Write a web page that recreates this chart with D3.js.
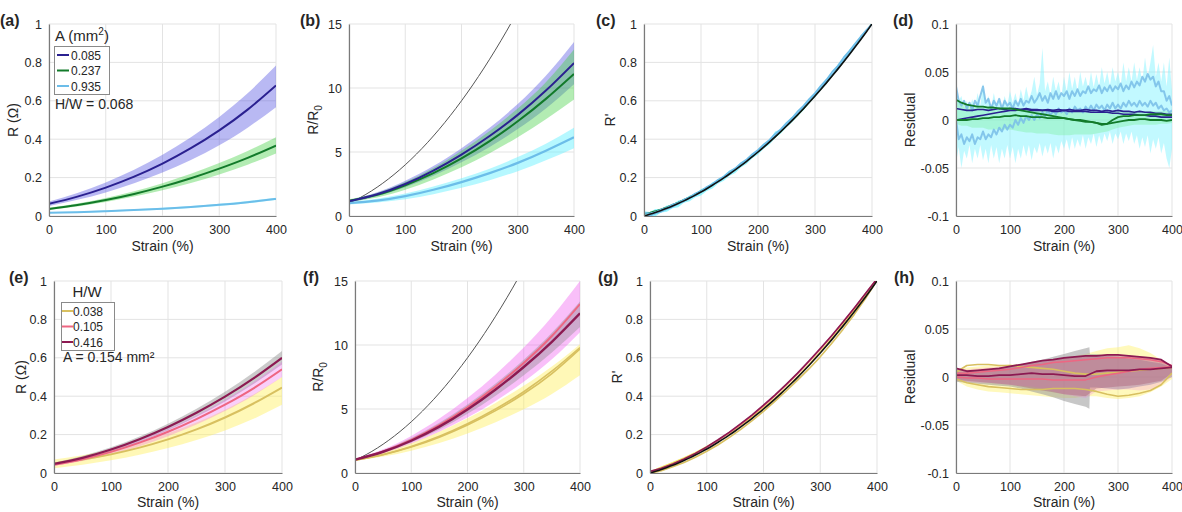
<!DOCTYPE html>
<html><head><meta charset="utf-8">
<script src="https://cdn.jsdelivr.net/npm/d3@7"></script>
<style>body{margin:0;background:#fff} text{font-family:"Liberation Sans",Arial,sans-serif;fill:#262626}</style>
</head><body><svg id="c" width="1182" height="512"></svg>
<script>
// ---------- data ----------
const strain9 = [0,50,100,150,200,250,300,350,400];
const strain41 = d3.range(0,401,10);
const strain81 = d3.range(0,401,5);
const strain21 = d3.range(0,401,20);
const strainGray = [0,20,40,60,80,100,120,140,160,180,200,220,240,247,248,260,280,300,320,340,360,380,400];
const strainSq = [0,20,40,60,80,100,120,140,160,180,200,220,240,260,280,300];
const xTicks = [0,100,200,300,400];
const yTicksR = [0,0.2,0.4,0.6,0.8,1];
const yTicksRatio = [0,5,10,15];
const yTicksRes = [-0.1,-0.05,0,0.05,0.1];
const legendA = ["0.085","0.237","0.935"];
const legendHW = ["0.038","0.105","0.416"];

// (a) R vs strain, by cross-section A
const a085 = [0.063,0.101,0.148,0.205,0.273,0.353,0.446,0.554,0.68];
const a085Up = [0.075,0.12,0.175,0.241,0.319,0.41,0.516,0.639,0.784];
const a085Lo = [0.052,0.084,0.123,0.17,0.226,0.292,0.369,0.46,0.567];
const a237 = [0.037,0.057,0.083,0.115,0.153,0.197,0.247,0.303,0.367];
const a237Up = [0.043,0.065,0.094,0.129,0.171,0.22,0.276,0.339,0.41];
const a237Lo = [0.032,0.05,0.073,0.101,0.134,0.172,0.216,0.267,0.325];
const a935 = [0.017,0.02,0.025,0.031,0.038,0.047,0.058,0.072,0.089];
const a935Up = [0.02,0.023,0.029,0.035,0.043,0.052,0.064,0.078,0.095];
const a935Lo = [0.014,0.017,0.021,0.027,0.033,0.042,0.052,0.066,0.083];

// (b) R/R0
const bSquare = [1,1.44,1.96,2.56,3.24,4,4.84,5.76,6.76,7.84,9,10.24,11.56,12.96,14.44,16];
const b085 = [1.15,1.7,2.5,3.55,4.8,6.25,7.9,9.8,11.95];
const b085Up = [1.25,1.85,2.75,3.9,5.3,6.9,8.75,10.95,13.6];
const b085Lo = [1.05,1.55,2.25,3.15,4.2,5.4,6.8,8.4,10.3];
const b237 = [1.2,1.65,2.4,3.35,4.5,5.85,7.4,9.15,11.1];
const b237Up = [1.3,1.8,2.65,3.75,5.1,6.65,8.4,10.45,13.0];
const b237Lo = [1.1,1.45,2.05,2.85,3.8,4.9,6.15,7.55,9.1];
const b935 = [1.0,1.2,1.55,2.05,2.65,3.35,4.15,5.1,6.15];
const b935Up = [1.1,1.35,1.75,2.3,2.95,3.7,4.6,5.65,6.9];
const b935Lo = [0.9,1.05,1.3,1.7,2.2,2.8,3.5,4.35,5.3];

// (c)/(g) normalised fit R'
const fitR = [0,0.00875,0.01833,0.02875,0.04,0.05208,0.065,0.07875,0.09333,0.10875,0.125,
  0.14208,0.16,0.17875,0.19833,0.21875,0.24,0.26208,0.285,0.30875,0.33333,
  0.35875,0.385,0.41208,0.44,0.46875,0.49833,0.52875,0.56,0.59208,0.625,
  0.65875,0.69333,0.72875,0.765,0.80208,0.84,0.87875,0.91833,0.95875,1];
const cCyanDevUp = [0.025,0.012,0.018,0.008,0.015,0.006,0.016,0.007,0.014,0.006,0.015,
  0.008,0.016,0.007,0.013,0.02,0.009,0.016,0.008,0.014,0.01,
  0.018,0.009,0.028,0.01,0.016,0.02,0.01,0.018,0.012,0.02,
  0.012,0.02,0.013,0.024,0.015,0.025,0.014,0.02,0.01,0.0];
const cCyanDevLo = [-0.01,-0.016,-0.02,-0.01,-0.018,-0.012,-0.02,-0.01,-0.016,-0.011,-0.018,
  -0.012,-0.017,-0.01,-0.015,-0.009,-0.016,-0.01,-0.014,-0.008,-0.013,
  -0.008,-0.012,-0.007,-0.01,-0.006,-0.009,-0.006,-0.009,-0.005,-0.008,
  -0.005,-0.007,-0.004,-0.006,-0.004,-0.006,-0.004,-0.005,-0.003,0.0];
const cLbDevA = [0.015,0.005,0.002,0.006,0.003,0.008,0.004,0.007,0.005,0.009,0.006,
  0.009,0.007,0.011,0.008,0.012,0.009,0.013,0.01,0.014,0.011,
  0.015,0.012,0.016,0.013,0.017,0.014,0.018,0.015,0.019,0.016,
  0.02,0.017,0.022,0.018,0.023,0.02,0.019,0.016,0.01,0.0];
const cLbDevB = [0.0,-0.008,-0.006,-0.007,-0.004,-0.005,-0.002,-0.003,0.0,-0.002,0.001,
  0.0,0.002,0.001,0.003,0.002,0.004,0.003,0.005,0.004,0.006,
  0.005,0.007,0.006,0.008,0.007,0.008,0.007,0.009,0.008,0.009,
  0.008,0.01,0.009,0.011,0.01,0.01,0.008,0.006,0.004,0.0];

// (d) residuals, A series
const dCyanUp = [0.035,0.02,0.025,0.012,0.02,0.01,0.022,0.012,0.028,0.015,0.038,0.018,0.025,0.012,0.028,0.015,0.022,0.012,0.025,0.016,
  0.03,0.018,0.028,0.016,0.032,0.02,0.035,0.022,0.03,0.045,0.026,0.038,0.075,0.03,0.04,0.026,0.045,0.03,0.04,0.025,
  0.045,0.03,0.05,0.032,0.045,0.03,0.05,0.035,0.045,0.032,0.05,0.034,0.048,0.035,0.055,0.038,0.05,0.036,0.055,0.04,
  0.05,0.036,0.06,0.04,0.055,0.04,0.06,0.042,0.055,0.04,0.065,0.044,0.06,0.078,0.045,0.06,0.04,0.06,0.035,0.065,0.03];
const dCyanLo = [-0.045,-0.028,-0.05,-0.032,-0.04,-0.026,-0.045,-0.03,-0.04,-0.026,-0.042,-0.03,-0.045,-0.026,-0.04,-0.028,-0.045,-0.03,-0.04,-0.026,
  -0.04,-0.028,-0.045,-0.03,-0.04,-0.026,-0.038,-0.026,-0.042,-0.028,-0.035,-0.024,-0.038,-0.026,-0.035,-0.024,-0.04,-0.026,-0.035,-0.022,
  -0.03,-0.02,-0.032,-0.018,-0.03,-0.02,-0.028,-0.016,-0.03,-0.018,-0.025,-0.014,-0.028,-0.016,-0.025,-0.014,-0.022,-0.012,-0.025,-0.014,
  -0.02,-0.012,-0.025,-0.014,-0.022,-0.012,-0.025,-0.016,-0.03,-0.018,-0.028,-0.016,-0.035,-0.02,-0.03,-0.018,-0.035,-0.024,-0.04,-0.05,-0.03];
const dLbA = [0.035,0.02,0.015,0.02,0.012,0.018,0.01,0.02,0.015,0.025,0.035,0.018,0.022,0.012,0.02,0.015,0.022,0.012,0.02,0.015,
  0.018,0.012,0.02,0.015,0.022,0.015,0.02,0.018,0.025,0.018,0.022,0.028,0.02,0.025,0.018,0.028,0.022,0.03,0.022,0.028,
  0.025,0.03,0.022,0.03,0.025,0.032,0.025,0.03,0.028,0.035,0.028,0.032,0.03,0.036,0.028,0.034,0.03,0.036,0.03,0.035,
  0.032,0.038,0.03,0.036,0.032,0.04,0.034,0.04,0.036,0.045,0.04,0.048,0.042,0.045,0.035,0.04,0.03,0.03,0.02,0.025,0.015];
const dLbB = [0.0,-0.02,-0.015,-0.025,-0.018,-0.022,-0.015,-0.025,-0.018,-0.02,-0.012,-0.02,-0.015,-0.018,-0.01,-0.015,-0.008,-0.012,-0.005,-0.01,
  -0.005,-0.008,0.0,-0.005,0.002,-0.003,0.004,0.0,0.005,0.0,0.006,0.002,0.008,0.004,0.01,0.005,0.01,0.006,0.012,0.008,
  0.01,0.006,0.012,0.008,0.014,0.01,0.012,0.008,0.014,0.01,0.015,0.01,0.016,0.012,0.015,0.01,0.016,0.012,0.018,0.012,
  0.016,0.012,0.018,0.014,0.02,0.015,0.018,0.014,0.02,0.015,0.018,0.014,0.02,0.015,0.018,0.012,0.015,0.01,0.012,0.008,0.01];
const dGreenUp = [0.02,0.016,0.016,0.014,0.014,0.014,0.013,0.013,0.013,0.013,0.012,0.012,0.012,0.012,0.011,0.011,0.011,0.01,0.01,0.01,0.009,
  0.009,0.009,0.009,0.009,0.009,0.008,0.008,0.008,0.008,0.009,0.009,0.009,0.009,0.009,0.009,0.009,0.009,0.009,0.009,0.009];
const dGreenLo = [-0.004,-0.006,-0.006,-0.008,-0.008,-0.008,-0.01,-0.01,-0.01,-0.01,-0.01,-0.011,-0.012,-0.013,-0.013,-0.014,-0.014,-0.014,-0.015,-0.016,-0.016,
  -0.016,-0.015,-0.015,-0.015,-0.015,-0.014,-0.013,-0.012,-0.01,-0.008,-0.007,-0.006,-0.005,-0.005,-0.005,-0.005,-0.005,-0.004,-0.004,-0.003];
const dNavyA = [0.012,0.011,0.01,0.01,0.011,0.011,0.01,0.011,0.012,0.011,0.012,0.012,0.011,0.012,0.011,0.011,0.01,0.011,0.01,0.011,0.01,
  0.011,0.01,0.01,0.011,0.01,0.01,0.009,0.01,0.009,0.01,0.009,0.009,0.008,0.009,0.008,0.008,0.007,0.007,0.006,0.006];
const dNavyB = [0.0,0.001,0.002,0.003,0.004,0.005,0.006,0.007,0.008,0.009,0.01,0.01,0.011,0.011,0.01,0.01,0.01,0.01,0.009,0.009,0.01,
  0.009,0.009,0.009,0.009,0.008,0.008,0.008,0.008,0.007,0.007,0.006,0.006,0.006,0.005,0.005,0.004,0.004,0.003,0.003,0.003];
const dGreenA = [0.021,0.018,0.016,0.015,0.014,0.014,0.013,0.013,0.012,0.012,0.012,0.011,0.01,0.009,0.008,0.007,0.006,0.005,0.004,0.003,0.002,
  0.001,0.0,-0.001,-0.002,-0.002,-0.003,-0.005,-0.004,0.0,0.003,0.004,0.004,0.005,0.005,0.005,0.006,0.006,0.006,0.005,0.005];
const dGreenB = [0.0,0.0,0.0,0.001,0.001,0.002,0.002,0.003,0.003,0.004,0.004,0.005,0.004,0.004,0.003,0.003,0.003,0.002,0.002,0.002,0.002,
  0.001,0.0,0.0,-0.001,-0.002,-0.003,-0.004,-0.004,-0.003,-0.002,-0.001,0.0,0.0,0.001,0.001,0.0,0.0,0.0,-0.001,0.0];

// (e) R vs strain, by H/W
const e038 = [0.05,0.07,0.097,0.132,0.175,0.227,0.289,0.362,0.445];
const e038Up = [0.07,0.092,0.122,0.16,0.207,0.263,0.329,0.409,0.5];
const e038Lo = [0.025,0.043,0.066,0.095,0.13,0.172,0.222,0.282,0.355];
const e105 = [0.043,0.072,0.11,0.158,0.215,0.281,0.356,0.441,0.54];
const e105Up = [0.05,0.081,0.121,0.171,0.231,0.301,0.382,0.474,0.58];
const e105Lo = [0.036,0.062,0.096,0.139,0.191,0.252,0.323,0.404,0.5];
const e416 = [0.047,0.079,0.122,0.176,0.24,0.314,0.398,0.493,0.6];
const e416Up = [0.055,0.089,0.134,0.19,0.257,0.335,0.423,0.523,0.636];
const e416Lo = [0.04,0.07,0.111,0.162,0.223,0.293,0.373,0.463,0.565];

// (f) R/R0 by H/W
const f038A = [1.0,1.45,2.07,2.87,3.85,5.0,6.35,7.95,9.8];
const f038B = [1.0,1.43,2.03,2.8,3.75,4.87,6.19,7.77,9.7];
const f038Up = [1.05,1.6,2.32,3.22,4.27,5.47,6.82,8.32,10.06];
const f038Lo = [0.95,1.28,1.74,2.34,3.08,3.96,4.98,6.18,7.64];
const f105 = [1.04,1.69,2.59,3.74,5.14,6.76,8.6,10.7,13.2];
const f105Up = [1.1,1.85,2.9,4.25,5.85,7.7,9.8,12.2,15.0];
const f105Lo = [0.98,1.53,2.28,3.23,4.33,5.63,7.13,8.88,11.0];
const f416 = [1.04,1.66,2.52,3.62,4.96,6.52,8.28,10.25,12.48];
const f416Up = [1.08,1.78,2.73,3.93,5.35,6.99,8.85,10.95,13.4];
const f416Lo = [1.0,1.58,2.38,3.4,4.62,6.04,7.64,9.42,11.4];

// (h) residuals, H/W series
const hGrayUp = [0.005,0.006,0.007,0.008,0.01,0.011,0.013,0.016,0.018,0.021,0.024,0.027,0.03,0.031,0.024,0.024,0.022,0.021,0.019,0.018,0.016,0.014,0.01];
const hGrayLo = [-0.005,-0.006,-0.007,-0.008,-0.009,-0.01,-0.012,-0.015,-0.018,-0.021,-0.025,-0.028,-0.031,-0.033,-0.011,-0.011,-0.012,-0.013,-0.012,-0.01,-0.008,-0.005,0.0];
const hYellowUp = [0.006,0.01,0.011,0.012,0.012,0.013,0.013,0.014,0.015,0.017,0.02,0.022,0.024,0.027,0.03,0.031,0.033,0.03,0.025,0.018,0.01];
const hYellowLo = [-0.004,-0.01,-0.013,-0.015,-0.016,-0.017,-0.018,-0.019,-0.02,-0.021,-0.022,-0.022,-0.02,-0.02,-0.022,-0.023,-0.022,-0.02,-0.016,-0.01,-0.002];
const hPinkUp = [0.008,0.008,0.009,0.01,0.011,0.012,0.013,0.014,0.016,0.018,0.02,0.021,0.022,0.023,0.023,0.023,0.022,0.021,0.02,0.018,0.012];
const hPinkLo = [-0.004,-0.005,-0.006,-0.006,-0.007,-0.008,-0.009,-0.01,-0.012,-0.015,-0.018,-0.02,-0.022,-0.015,-0.014,-0.013,-0.013,-0.014,-0.013,-0.008,0.0];
const hMaroonA = [0.009,0.006,0.007,0.008,0.009,0.011,0.013,0.015,0.017,0.018,0.02,0.021,0.022,0.022,0.023,0.023,0.022,0.021,0.02,0.018,0.011];
const hMaroonB = [0.002,0.002,0.001,0.001,0.002,0.002,0.003,0.004,0.003,0.003,0.002,0.001,0.001,0.006,0.007,0.007,0.007,0.008,0.008,0.009,0.01];
const hMaroonFillLo = [-0.003,-0.004,-0.005,-0.006,-0.007,-0.008,-0.01,-0.012,-0.014,-0.016,-0.018,-0.019,-0.02,-0.012,-0.011,-0.01,-0.009,-0.008,-0.006,-0.004,0.004];
const hPinkA = [0.004,0.004,0.005,0.006,0.007,0.008,0.01,0.012,0.013,0.015,0.016,0.017,0.018,0.019,0.02,0.02,0.02,0.019,0.018,0.016,0.012];
const hPinkB = [0.0,-0.001,-0.001,-0.002,-0.002,-0.002,-0.002,-0.002,-0.002,-0.003,-0.003,-0.003,-0.003,0.0,0.002,0.004,0.006,0.008,0.009,0.01,0.011];
const hYellowA = [0.005,0.012,0.013,0.013,0.012,0.012,0.011,0.01,0.009,0.008,0.006,0.004,0.003,0.003,0.004,0.005,0.006,0.007,0.008,0.009,0.01];
const hYellowB = [-0.002,-0.006,-0.008,-0.01,-0.011,-0.012,-0.013,-0.013,-0.013,-0.012,-0.012,-0.012,-0.013,-0.015,-0.018,-0.02,-0.019,-0.017,-0.014,-0.008,0.004];

// ---------- colours ----------
const C = {
  navy:"#2a2090", navyBand:"#5050e0", green:"#127a2a", greenBand:"#40d040",
  lb:"#6cbde9", cyanBand:"#6ef2ff", yellow:"#d8c060", yellowBand:"#fff060",
  pink:"#ee6682", pinkBand:"#f060f0", maroon:"#8c1a52", grayBand:"#8c8c8c"
};

// ---------- drawing helpers ----------
const svg = d3.select("#c");
const defs = svg.append("defs");
let clipN = 0;

function panel(p){
  const x = d3.scaleLinear().domain([0,400]).range([p.l,p.r]);
  const y = d3.scaleLinear().domain(p.dom).range([p.b,p.t]);
  const g = svg.append("g");
  g.append("g").selectAll("line").data(xTicks).join("line")
    .attr("x1",d=>x(d)).attr("x2",d=>x(d)).attr("y1",p.t).attr("y2",p.b)
    .attr("stroke","#e3e3e3").attr("stroke-width",1);
  g.append("g").selectAll("line").data(p.ticks).join("line")
    .attr("y1",d=>y(d)).attr("y2",d=>y(d)).attr("x1",p.l).attr("x2",p.r)
    .attr("stroke","#e3e3e3").attr("stroke-width",1);
  const id = "clip"+(clipN++);
  defs.append("clipPath").attr("id",id).append("rect")
    .attr("x",p.l).attr("y",p.t).attr("width",p.r-p.l).attr("height",p.b-p.t);
  const data = g.append("g").attr("clip-path",`url(#${id})`);
  const ax = g.append("g").attr("transform",`translate(0,${p.b})`)
    .call(d3.axisBottom(x).tickValues(xTicks).tickSize(0).tickPadding(p.xpad));
  const ay = g.append("g").attr("transform",`translate(${p.l},0)`)
    .call(d3.axisLeft(y).tickValues(p.ticks).tickSize(0).tickPadding(7).tickFormat(p.fmt));
  [ax,ay].forEach(a=>{
    a.select(".domain").attr("stroke","#7a7a7a").attr("stroke-width",1.2);
    a.selectAll("text").attr("font-size",12.5).attr("fill","#333")
      .style("font-family","'Liberation Sans',Arial,sans-serif");
  });
  g.append("text").attr("x",(p.l+p.r)/2).attr("y",p.b+p.xt).attr("text-anchor","middle")
    .attr("font-size",14).text("Strain (%)");
  const yt = g.append("text").attr("transform",`translate(${p.yx},${(p.t+p.b)/2}) rotate(-90)`)
    .attr("text-anchor","middle").attr("font-size",14);
  p.ytitle(yt);
  g.append("text").attr("x",p.lx).attr("y",p.ly).attr("font-size",16)
    .attr("font-weight","bold").attr("fill","#111").text(p.label);
  return {x,y,data};
}

function band(P, xs, lo, hi, fill, op, curve){
  const pts = xs.map((s,i)=>[s,lo[i],hi[i]]);
  P.data.append("path").datum(pts)
    .attr("d",d3.area().x(d=>P.x(d[0])).y0(d=>P.y(d[1])).y1(d=>P.y(d[2])).curve(curve||d3.curveLinear))
    .attr("fill",fill).attr("fill-opacity",op).attr("stroke","none");
}
function line(P, xs, ys, stroke, w, curve, op){
  const pts = xs.map((s,i)=>[s,ys[i]]);
  P.data.append("path").datum(pts)
    .attr("d",d3.line().x(d=>P.x(d[0])).y(d=>P.y(d[1])).curve(curve||d3.curveLinear))
    .attr("fill","none").attr("stroke",stroke).attr("stroke-width",w)
    .attr("stroke-opacity",op==null?1:op).attr("stroke-linejoin","round");
}
const smooth = d3.curveNatural;

const fmtR = d => d===0?"0":d===1?"1":d3.format(".1f")(d);
const fmtRes = d => String(d);
const tR = t=>t.text("R (\u03A9)");
const tRatio = t=>{t.append("tspan").text("R/R"); t.append("tspan").attr("font-size",10).attr("dy",4).text("0");};
const tRp = t=>t.text("R'");
const tRes = t=>t.text("Residual");

const rowTop = {t:24,b:216,xpad:9,xt:35,ly:26};
const rowBot = {t:281,b:473,xpad:9,xt:34,ly:283};

// ---------- (a) ----------
{
  const P = panel({...rowTop,l:49,r:276,dom:[0,1],ticks:yTicksR,fmt:fmtR,ytitle:tR,yx:18,lx:0,label:"(a)"});
  band(P,strain9,a085Lo,a085Up,C.navyBand,0.4,smooth);
  band(P,strain9,a237Lo,a237Up,C.greenBand,0.4,smooth);
  band(P,strain9,a935Lo,a935Up,C.cyanBand,0.5,smooth);
  line(P,strain9,a935,C.lb,2,smooth);
  line(P,strain9,a237,C.green,2,smooth);
  line(P,strain9,a085,C.navy,2,smooth);
  const lg = svg.append("g");
  lg.append("text").attr("x",55).attr("y",41).attr("font-size",15)
    .call(t=>{t.append("tspan").text("A (mm"); t.append("tspan").attr("font-size",10).attr("dy",-6).text("2"); t.append("tspan").attr("dy",6).text(")");});
  lg.append("rect").attr("x",54.5).attr("y",46.5).attr("width",55).attr("height",48)
    .attr("fill","#fff").attr("stroke","#8a8a8a");
  const cols = [C.navy,C.green,C.lb];
  legendA.forEach((s,i)=>{
    const yy = 55 + i*15.5;
    lg.append("line").attr("x1",57).attr("x2",69).attr("y1",yy).attr("y2",yy).attr("stroke",cols[i]).attr("stroke-width",2);
    lg.append("text").attr("x",71).attr("y",yy+4.5).attr("font-size",12).text(s);
  });
  lg.append("text").attr("x",55).attr("y",109).attr("font-size",14).text("H/W = 0.068");
}

// ---------- (b) ----------
{
  const P = panel({...rowTop,l:349,r:574,dom:[0,15],ticks:yTicksRatio,fmt:d=>String(d),ytitle:tRatio,yx:318,lx:300,label:"(b)"});
  line(P,strainSq,bSquare,"#555",1,smooth);
  band(P,strain9,b085Lo,b085Up,C.navyBand,0.4,smooth);
  band(P,strain9,b237Lo,b237Up,C.greenBand,0.4,smooth);
  band(P,strain9,b935Lo,b935Up,C.cyanBand,0.5,smooth);
  line(P,strain9,b935,C.lb,2.2,smooth);
  line(P,strain9,b237,C.green,2,smooth);
  line(P,strain9,b085,C.navy,2,smooth);
}

// ---------- (c) ----------
{
  const P = panel({...rowTop,l:644,r:872,dom:[0,1],ticks:yTicksR,fmt:fmtR,ytitle:tRp,yx:615,lx:596,label:"(c)"});
  band(P,strain41,fitR.map((f,i)=>f+cCyanDevLo[i]),fitR.map((f,i)=>f+cCyanDevUp[i]),C.cyanBand,0.7);
  line(P,strain41,fitR.map((f,i)=>f+dGreenA[i]*0.5),C.green,1.2);
  line(P,strain41,fitR.map((f,i)=>f+cLbDevB[i]),C.lb,1.5);
  line(P,strain41,fitR.map((f,i)=>f+cLbDevA[i]),C.lb,1.5);
  line(P,strain41,fitR,"#111",1.6,smooth);
}

// ---------- (d) ----------
{
  const P = panel({...rowTop,l:956,r:1172,dom:[-0.1,0.1],ticks:yTicksRes,fmt:fmtRes,ytitle:tRes,yx:915,lx:893,label:"(d)"});
  band(P,strain81,dCyanLo,dCyanUp,"#86f3ff",0.5);
  band(P,strain41,dGreenLo,dGreenUp,"#7cf0a0",0.4);
  line(P,strain81,dLbB,"#78bde8",2,null,0.85);
  line(P,strain81,dLbA,"#78bde8",2,null,0.85);
  line(P,strain41,dNavyB,C.navy,1.6);
  line(P,strain41,dNavyA,C.navy,1.6);
  line(P,strain41,dGreenB,C.green,1.8);
  line(P,strain41,dGreenA,C.green,1.8);
}

// ---------- (e) ----------
{
  const P = panel({...rowBot,l:54,r:282,dom:[0,1],ticks:yTicksR,fmt:fmtR,ytitle:tR,yx:26,lx:9,label:"(e)"});
  band(P,strain9,e038Lo,e038Up,C.yellowBand,0.45,smooth);
  band(P,strain9,e416Lo,e416Up,C.grayBand,0.45,smooth);
  band(P,strain9,e105Lo,e105Up,C.pinkBand,0.3,smooth);
  line(P,strain9,e038,C.yellow,2,smooth);
  line(P,strain9,e105,C.pink,2,smooth);
  line(P,strain9,e416,C.maroon,2.2,smooth);
  const lg = svg.append("g");
  lg.append("text").attr("x",87).attr("y",297).attr("text-anchor","middle").attr("font-size",15).text("H/W");
  lg.append("rect").attr("x",61.5).attr("y",302.5).attr("width",53).attr("height",48)
    .attr("fill","#fff").attr("stroke","#8a8a8a");
  const cols = [C.yellow,C.pink,C.maroon];
  legendHW.forEach((s,i)=>{
    const yy = 311 + i*15.5;
    lg.append("line").attr("x1",62).attr("x2",73).attr("y1",yy).attr("y2",yy).attr("stroke",cols[i]).attr("stroke-width",2);
    lg.append("text").attr("x",73).attr("y",yy+4.5).attr("font-size",12).text(s);
  });
  lg.append("text").attr("x",63).attr("y",362).attr("font-size",14).text("A = 0.154 mm\u00B2");
}

// ---------- (f) ----------
{
  const P = panel({...rowBot,l:355,r:580,dom:[0,15],ticks:yTicksRatio,fmt:d=>String(d),ytitle:tRatio,yx:323,lx:303,label:"(f)"});
  line(P,strainSq,bSquare,"#555",1,smooth);
  band(P,strain9,f105Lo,f105Up,C.pinkBand,0.4,smooth);
  band(P,strain9,f038Lo,f038Up,C.yellowBand,0.45,smooth);
  band(P,strain9,f416Lo,f416Up,C.grayBand,0.4,smooth);
  line(P,strain9,f038B,C.yellow,1.6,smooth);
  line(P,strain9,f038A,C.yellow,1.6,smooth);
  line(P,strain9,f105,C.pink,2,smooth);
  line(P,strain9,f416,C.maroon,2.4,smooth);
}

// ---------- (g) ----------
{
  const P = panel({...rowBot,l:650,r:877,dom:[0,1],ticks:yTicksR,fmt:fmtR,ytitle:tRp,yx:622,lx:598,label:"(g)"});
  const fit21 = strain21.map((s,i)=>fitR[2*i]);
  line(P,strain21,fit21.map((f,i)=>f+hYellowB[i]),C.yellow,1.6);
  line(P,strain21,fit21.map((f,i)=>f+hYellowA[i]),"#f0e060",1.6);
  line(P,strain21,fit21.map((f,i)=>f+hPinkA[i]),C.pink,1.5);
  line(P,strain21,fit21.map((f,i)=>f+hMaroonA[i]),C.maroon,1.6);
  line(P,strain41,fitR,"#111",1.6,smooth);
}

// ---------- (h) ----------
{
  const P = panel({...rowBot,l:956,r:1172,dom:[-0.1,0.1],ticks:yTicksRes,fmt:fmtRes,ytitle:tRes,yx:915,lx:894,label:"(h)"});
  band(P,strain21,hYellowLo,hYellowUp,"#fff47a",0.5);
  band(P,strainGray,hGrayLo,hGrayUp,"#999999",0.55);
  band(P,strain21,hPinkLo,hPinkUp,C.pinkBand,0.2);
  band(P,strain21,hMaroonFillLo,hMaroonA,"#a04a68",0.35);
  line(P,strain21,hYellowB,C.yellow,1.6);
  line(P,strain21,hYellowA,C.yellow,1.6);
  line(P,strain21,hPinkB,C.pink,1.5);
  line(P,strain21,hPinkA,C.pink,1.5);
  line(P,strain21,hMaroonB,C.maroon,1.8);
  line(P,strain21,hMaroonA,C.maroon,1.8);
}
</script></body></html>
